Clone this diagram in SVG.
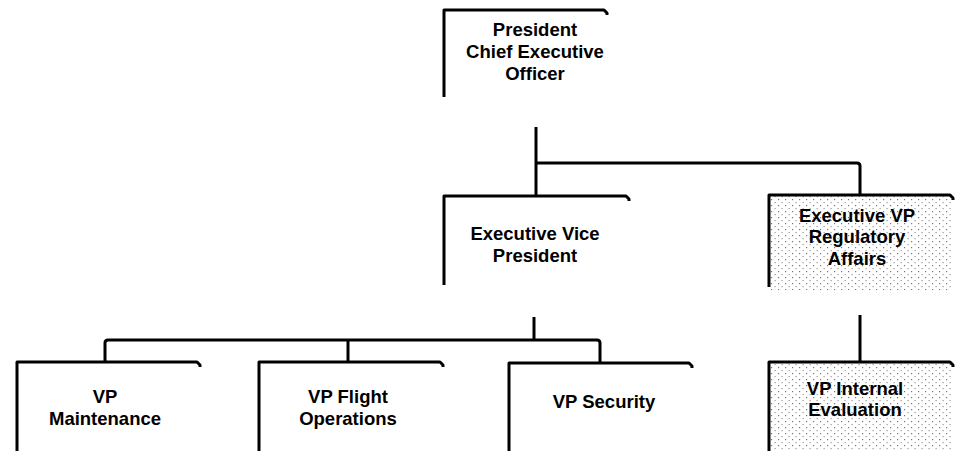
<svg xmlns="http://www.w3.org/2000/svg" width="955" height="451" viewBox="0 0 955 451">
<style>
.edge{fill:none;stroke:#000;stroke-width:3;stroke-linejoin:round;stroke-linecap:butt}
.conn{fill:none;stroke:#000;stroke-width:3;stroke-linejoin:round}
.t{font-family:"Liberation Sans",Arial,sans-serif;font-weight:bold;font-size:18.5px;fill:#000;text-anchor:middle}
</style>
<defs>
<pattern id="stip" width="7" height="6" patternUnits="userSpaceOnUse">
<rect x="1" y="1" width="1.2" height="1.2" fill="#777"/>
<rect x="4.5" y="4" width="1.2" height="1.2" fill="#999"/>
</pattern>
</defs>
<rect width="955" height="451" fill="#fff"/>
<g id="connectors">
<path class="conn" d="M536,127 V196"/>
<path class="conn" d="M536,163 H857 Q860,163 860,166 V194"/>
<path class="conn" d="M534,317 V340"/>
<path class="conn" d="M105,362 V343 Q105,340 108,340 H597 Q600,340 600,343 V363"/>
<path class="conn" d="M348,340 V362"/>
<path class="conn" d="M860,315 V362"/>
</g>
<g id="president">
<path class="edge" d="M444,97 V10 H604 l3,3 v2"/>
<text class="t" x="535" y="36">President</text>
<text class="t" x="535" y="58">Chief Executive</text>
<text class="t" x="535" y="80">Officer</text>
</g>
<g id="evp">
<path class="edge" d="M444,285 V196 H626 l3,3 v2"/>
<text class="t" x="535" y="240">Executive Vice</text>
<text class="t" x="535" y="262">President</text>
</g>
<g id="evp-regulatory">
<rect x="769" y="195" width="184" height="95" fill="url(#stip)"/>
<path class="edge" d="M769,287 V195 H950 l3,3 v2"/>
<text class="t" x="857" y="222">Executive VP</text>
<text class="t" x="857" y="243">Regulatory</text>
<text class="t" x="857" y="265">Affairs</text>
</g>
<g id="vp-maintenance">
<path class="edge" d="M17,451 V362 H197 l3,3 v2"/>
<text class="t" x="105" y="403">VP</text>
<text class="t" x="105" y="425">Maintenance</text>
</g>
<g id="vp-flight">
<path class="edge" d="M259,451 V362 H440 l3,3 v2"/>
<text class="t" x="348" y="403">VP Flight</text>
<text class="t" x="348" y="425">Operations</text>
</g>
<g id="vp-security">
<path class="edge" d="M509,451 V363 H689 l3,3 v2"/>
<text class="t" x="604" y="408">VP Security</text>
</g>
<g id="vp-internal">
<rect x="769" y="362" width="184" height="89" fill="url(#stip)"/>
<path class="edge" d="M769,451 V362 H950 l3,3 v2"/>
<text class="t" x="855" y="395">VP Internal</text>
<text class="t" x="855" y="416">Evaluation</text>
</g>
</svg>
